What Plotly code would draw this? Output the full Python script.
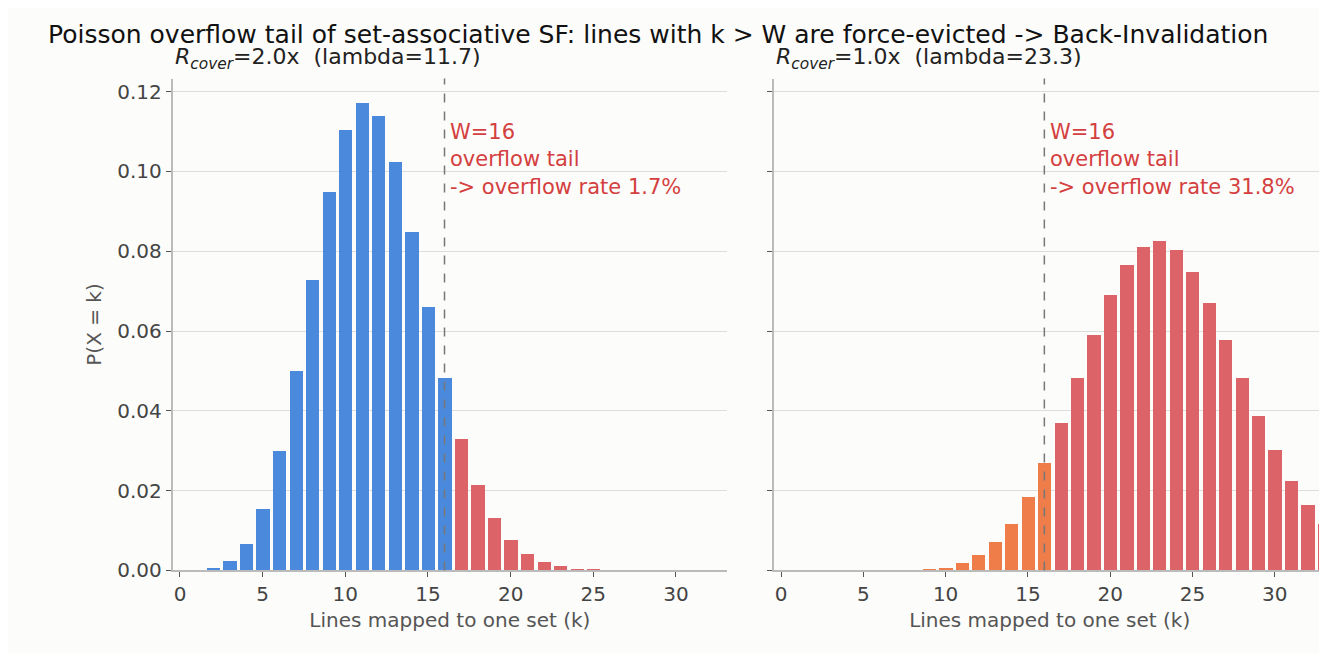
import plotly.graph_objects as go
from plotly.subplots import make_subplots

W = 16
k = list(range(0, 35))
# values
p_left = [0.0, 0.0001, 0.0007, 0.0025, 0.0067, 0.0155, 0.030, 0.050, 0.073, 0.095,
          0.1105, 0.1173, 0.1140, 0.1025, 0.0850, 0.0662, 0.0484, 0.0332, 0.0215, 0.0133,
          0.0077, 0.0043, 0.0023, 0.0012, 0.0006, 0.0003, 0.0001, 0.00005, 0.0, 0.0,
          0.0, 0.0, 0.0, 0.0, 0.0]
p_right = [0.0, 0.0, 0.0, 0.0, 0.0, 0.0, 0.0, 0.0, 0.0001, 0.0003,
           0.0008, 0.0019, 0.0041, 0.0072, 0.0118, 0.0186, 0.0270, 0.0372, 0.0483, 0.0592,
           0.0691, 0.0768, 0.0813, 0.0826, 0.0804, 0.0750, 0.0672, 0.0580, 0.0483, 0.0389,
           0.0302, 0.0226, 0.0165, 0.0117, 0.0080]
rates = ["1.7%", "31.8%"]
titles = ["<i>R<sub>cover</sub></i>=2.0x  (lambda=11.7)", "<i>R<sub>cover</sub></i>=1.0x  (lambda=23.3)"]

BLUE, ORANGE, RED = "#4a89dc", "#ee7d4a", "#dc6368"
DOM = [[0.124, 0.542], [0.577, 0.993]]

fig = make_subplots(rows=1, cols=2, shared_yaxes=True)
for i, (p, base) in enumerate([(p_left, BLUE), (p_right, ORANGE)]):
    colors = [base if kk <= W else RED for kk in k]
    fig.add_trace(go.Bar(x=k, y=p, marker=dict(color=colors, line_width=0), width=0.8,
                         showlegend=False), row=1, col=i + 1)
    fig.add_vline(x=W, line=dict(color="#777", width=1.5, dash="dash"), row=1, col=i + 1)
    xr = "x" if i == 0 else "x2"
    fig.add_annotation(x=W + 0.2, y=0.1135, xref=xr, yref="y", xanchor="left", yanchor="top",
                       align="left", showarrow=False,
                       text=f"W={W}<br>overflow tail<br>-> overflow rate {rates[i]}",
                       font=dict(color="#d43f3f", size=21))
    fig.add_annotation(x=DOM[i][0], y=0.895, xref="paper", yref="paper",
                       xanchor="left", yanchor="bottom", showarrow=False,
                       text=titles[i], font=dict(size=22, color="#222"))

ax = dict(range=[-0.45, 33.1], tickvals=[0, 5, 10, 15, 20, 25, 30], ticks="outside",
          ticklen=5, tickcolor="#555", showgrid=False, showline=True, linecolor="#bbb",
          linewidth=1.5, zeroline=False, title_text="Lines mapped to one set (k)",
          title_font=dict(size=20, color="#555"), tickfont=dict(size=20, color="#444"),
          title_standoff=8)
fig.update_xaxes(**ax)
fig.update_layout(xaxis=dict(domain=DOM[0]), xaxis2=dict(domain=DOM[1]))
fig.update_yaxes(range=[0, 0.1233], dtick=0.02, tickformat=".2f", ticks="outside", ticklen=5,
                 tickcolor="#555", showgrid=True, gridcolor="#ddd", showline=True,
                 linecolor="#bbb", linewidth=1.5, zeroline=False,
                 tickfont=dict(size=20, color="#444"), domain=[0.1225, 0.89])
fig.update_yaxes(title_text="P(X = k)", title_font=dict(size=20, color="#555"),
                 title_standoff=10, row=1, col=1)
fig.update_yaxes(showticklabels=False, row=1, col=2)

fig.update_layout(
    width=1327, height=653, margin=dict(l=0, r=0, t=0, b=0),
    paper_bgcolor="#fcfcfa", plot_bgcolor="#fcfcfa", bargap=0,
    font=dict(family="DejaVu Sans"),
    title=dict(text="Poisson overflow tail of set-associative SF: lines with k > W are force-evicted -> Back-Invalidation",
               x=0.49, xanchor="center", y=0.96, yanchor="middle", font=dict(size=25, color="#111")),
)
fig.write_html("out.html")
